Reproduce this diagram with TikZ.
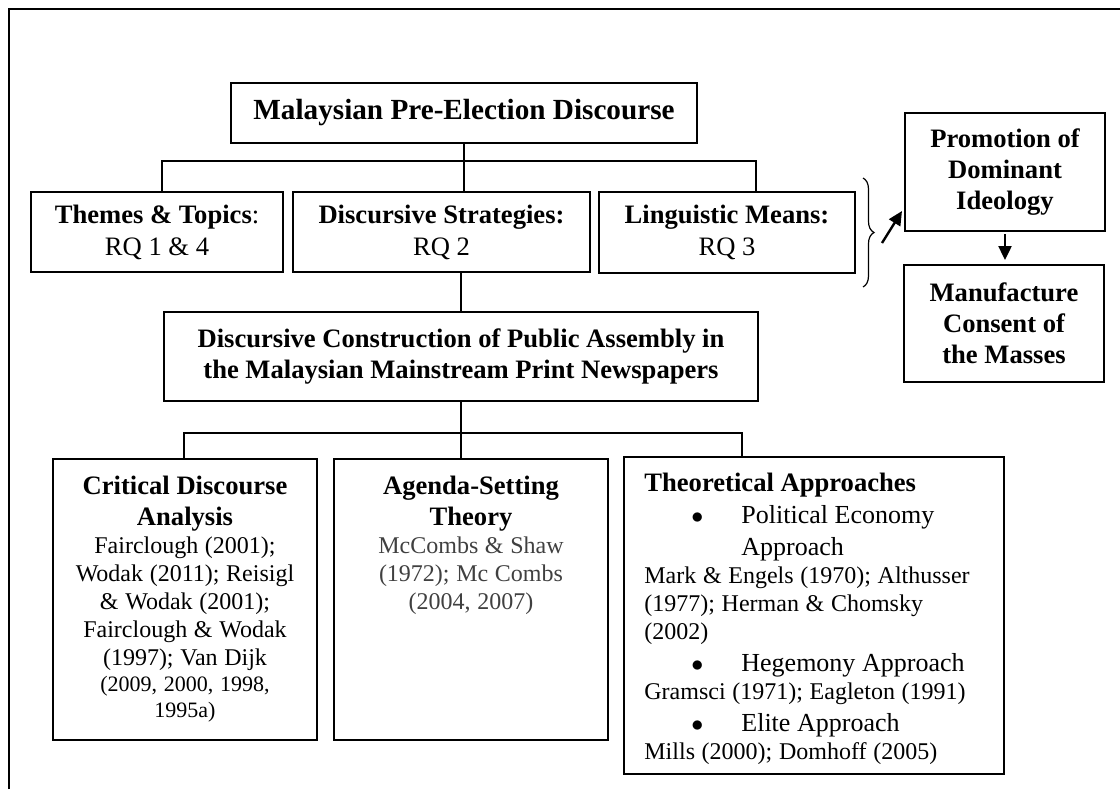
\documentclass[tikz,border=0pt]{standalone}
\usepackage{fontspec}
\setmainfont{Liberation Serif}
\usetikzlibrary{arrows.meta,positioning,decorations.pathreplacing}
\setlength{\parindent}{0pt}
\newcommand{\fnhead}{\fontsize{13.3}{15.5}\selectfont\bfseries}
\newcommand{\fnbody}{\fontsize{12}{14}\selectfont}
\newcommand{\fnsmall}{\fontsize{11}{12.8}\selectfont}
\newcommand{\fnitem}{\fontsize{13}{16}\selectfont}
\newcommand{\tabullet}[1]{\hspace*{23.5pt}\makebox[25pt][l]{$\bullet$}#1}

\begin{document}
\begin{tikzpicture}[x=0.5pt,y=-0.5pt,
  box/.style={draw,line width=1pt,inner sep=0pt,align=center},
  rowtext/.style={font=\fontsize{13.3}{16}\selectfont},
  boldtext/.style={font=\fontsize{13.3}{15.5}\selectfont\bfseries},
  link/.style={line width=0.6pt},
  arr/.style={line width=1.2pt,-{Triangle[length=7pt,width=6.5pt]}}]
  \useasboundingbox (0,0) rectangle (1120,789);
  \draw[line width=1pt] (9,789) |- (1120,9);

  \node[box,minimum width=233pt,minimum height=30pt,font=\fontsize{14.6}{17}\selectfont\bfseries] (title) at (464,113) {Malaysian Pre-Election Discourse};
  \node[box,rowtext,minimum width=126pt,minimum height=40pt] (themes) at (157,232) {\textbf{Themes \& Topics}:\\RQ 1 \& 4};
  \node[box,rowtext,minimum width=148.5pt,minimum height=40pt] (disc) at (441.5,232) {\textbf{Discursive Strategies:}\\RQ 2};
  \node[box,rowtext,minimum width=128pt,minimum height=40.5pt] (ling) at (727,232.5) {\textbf{Linguistic Means:}\\RQ 3};
  \node[box,boldtext,minimum width=100pt,minimum height=59pt] (promo) at (1005,172) {Promotion of\\Dominant\\Ideology};
  \node[box,boldtext,minimum width=100pt,minimum height=58.5pt] (manuf) at (1004,323.5) {Manufacture\\Consent of\\the Masses};
  \node[box,boldtext,minimum width=297pt,minimum height=44.5pt] (dc) at (461,356.5) {Discursive Construction of Public Assembly in\\the Malaysian Mainstream Print Newspapers};

  \node[box,minimum width=132pt,minimum height=140.5pt] (cda) at (185,599.5) {};
  \node[box,minimum width=137pt,minimum height=140.5pt] (ast) at (471,599.5) {};
  \node[box,minimum width=190pt,minimum height=158.5pt] (ta) at (814,615.5) {};

  \node[below=9pt of cda.north,inner sep=0pt,text width=128pt,align=center] (cdatext) {%
    {\fnhead Critical Discourse\\Analysis\par}%
    {\fnbody Fairclough (2001);\\Wodak (2011); Reisigl\\\& Wodak (2001);\\Fairclough \& Wodak\\(1997); Van Dijk\par}%
    {\fnsmall (2009, 2000, 1998,\\1995a)\par}};
  \node[below=9pt of ast.north,inner sep=0pt,text width=133pt,align=center] (asttext) {%
    {\fnhead Agenda-Setting\\Theory\par}%
    {\fnbody\color{black!75}McCombs \& Shaw\\(1972); Mc Combs\\(2004, 2007)\par}};
  \node[anchor=north west,inner sep=0pt,text width=182pt,align=left] (tatext) at ([xshift=10.5pt,yshift=-8.5pt]ta.north west) {%
    {\fnhead Theoretical Approaches\par}%
    {\fnitem \tabullet{Political Economy}\\\hspace*{48.5pt}Approach\par}%
    {\fnbody Mark \& Engels (1970); Althusser\\(1977); Herman \& Chomsky\\(2002)\par}%
    {\fnitem \tabullet{Hegemony Approach}\par}%
    {\fnbody Gramsci (1971); Eagleton (1991)\par}%
    {\fnitem \tabullet{Elite Approach}\par}%
    {\fnbody Mills (2000); Domhoff (2005)\par}};

  \coordinate (barL) at (162,161);
  \coordinate (barR) at (756,161);
  \coordinate (lowL) at (184,433);
  \coordinate (lowR) at (742,433);
  \draw[link] (title.south) -- (title.south |- disc.north);
  \draw[link] (themes.north -| barL) |- (barR) -- (barR |- ling.north);
  \draw[link] (disc.south -| dc.north) -- (dc.north);
  \draw[link] (dc.south) -- (dc.south |- ast.north);
  \draw[link] (cda.north -| lowL) |- (lowR) -- (lowR |- ta.north);

  \coordinate (braceT) at (863,178);
  \coordinate (braceB) at (863,287);
  \coordinate (arrS) at (882,243);
  \coordinate (arrE) at (902,211);
  \draw[link,decorate,decoration={brace,amplitude=5.5pt}] (braceT) -- (braceB);
  \draw[arr] (arrS) -- (arrE);
  \draw[arr,shorten <=1pt,shorten >=2pt] (promo.south) -- (promo.south |- manuf.north);
\end{tikzpicture}
\end{document}
